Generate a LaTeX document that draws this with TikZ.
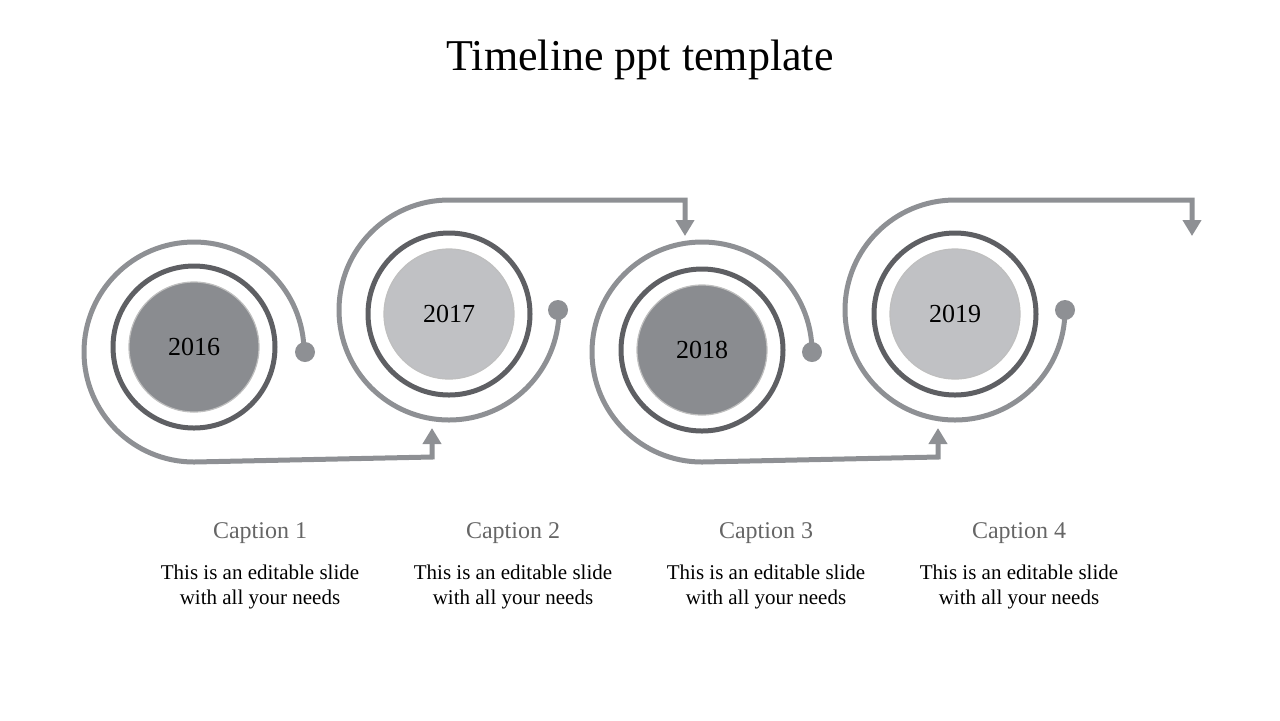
\documentclass[tikz,border=0pt]{standalone}
\usepackage{fontspec}
\setmainfont{Liberation Serif}
\usetikzlibrary{arrows.meta}
\definecolor{ringc}{HTML}{5E5F63}
\definecolor{pathc}{HTML}{8E9094}
\definecolor{darkf}{HTML}{8A8C90}
\definecolor{lightf}{HTML}{C0C1C4}
\definecolor{capc}{HTML}{666666}
\tikzset{
  ring/.style={circle,draw=ringc,line width=2.5pt,minimum size=81pt,inner sep=0pt},
  yearc/.style={circle,minimum size=65pt,inner sep=0pt,font=\fontsize{13}{15}\selectfont,draw=black!25,line width=0.6pt},
  flow/.style={draw=pathc,line width=2.5pt},
  arr/.style={flow,-{Triangle[length=8pt,width=9pt]}},
  dotc/.style={circle,fill=pathc,minimum size=10pt,inner sep=0pt},
  captext/.style={text=capc,font=\fontsize{12}{14}\selectfont},
  body/.style={align=center,font=\fontsize{10.5}{12.5}\selectfont}
}
\begin{document}
\begin{tikzpicture}[x=0.5pt,y=-0.5pt]
\useasboundingbox (0,0) rectangle (1280,720);
\node[font=\fontsize{22}{26}\selectfont] (title) at (640,60) {Timeline ppt template};
% unit 1
\node[ring] (r1) at (194,347) {};
\node[yearc,fill=darkf] (y1) at (194,347) {2016};
\node[dotc] (d1) at (305,352) {};
\coordinate (b1) at (432,428);
\draw[arr] (304,352) arc[start angle=0,end angle=270,radius=55pt] -- (432,457) -- (b1);
% unit 2
\node[ring] (r2) at (449,314) {};
\node[yearc,fill=lightf] (y2) at (449,314) {2017};
\node[dotc] (d2) at (558,310) {};
\coordinate (b2) at (685,236);
\draw[arr] (559,310) arc[start angle=0,end angle=-270,radius=55pt] -- (685,200) -- (b2);
% unit 3
\node[ring] (r3) at (702,350) {};
\node[yearc,fill=darkf] (y3) at (702,350) {2018};
\node[dotc] (d3) at (812,352) {};
\coordinate (b3) at (938,428);
\draw[arr] (812,352) arc[start angle=0,end angle=270,radius=55pt] -- (938,457) -- (b3);
% unit 4
\node[ring] (r4) at (955,314) {};
\node[yearc,fill=lightf] (y4) at (955,314) {2019};
\node[dotc] (d4) at (1065,310) {};
\coordinate (b4) at (1192,236);
\draw[arr] (1065,310) arc[start angle=0,end angle=-270,radius=55pt] -- (1192,200) -- (b4);
% captions
\foreach \i/\x in {1/260,2/513,3/766,4/1019}{
  \node[captext] (c\i) at (\x,533) {Caption \i};
  \node[body] (t\i) at (\x,587) {This is an editable slide\\with all your needs};
}
\end{tikzpicture}
\end{document}
